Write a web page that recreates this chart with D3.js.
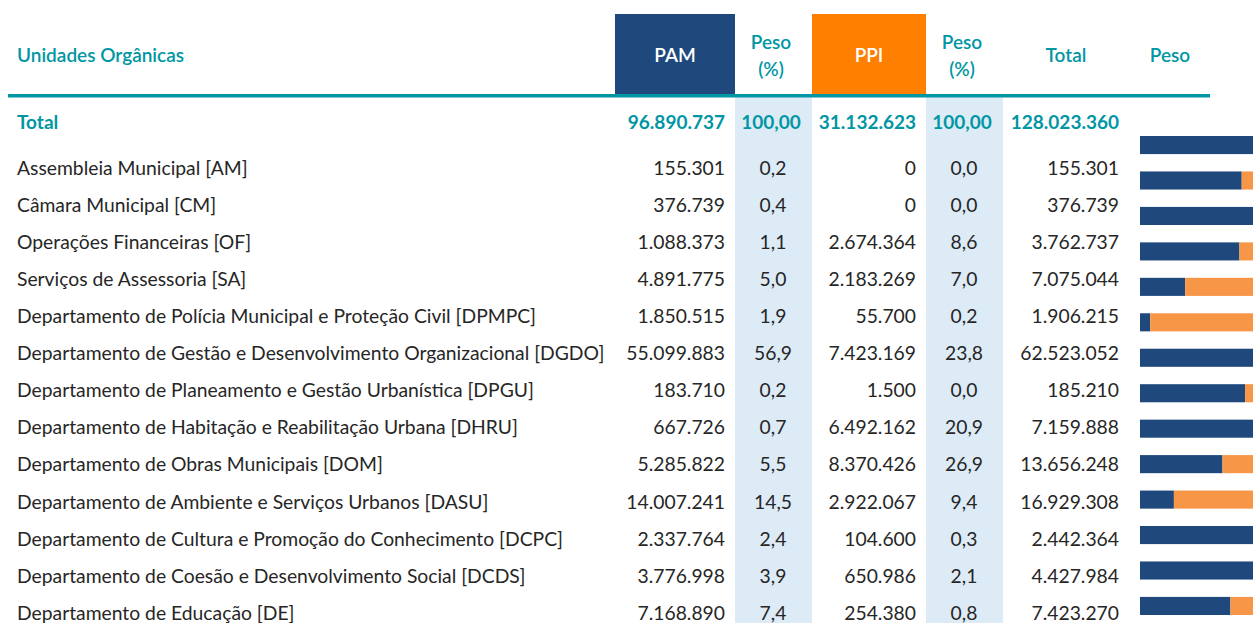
<!DOCTYPE html>
<html>
<head>
<meta charset="utf-8">
<title>Unidades Orgânicas - PAM / PPI</title>
<script src="https://d3js.org/d3.v7.min.js"></script>
<style>
    body { margin: 0; background: #ffffff; }
    svg { display: block; }
    text { font-family: Lato, "Liberation Sans", sans-serif; }
</style>
</head>
<body>
<div id="chart"></div>
<script>
    var units = [
        'Assembleia Municipal [AM]',
        'Câmara Municipal [CM]',
        'Operações Financeiras [OF]',
        'Serviços de Assessoria [SA]',
        'Departamento de Polícia Municipal e Proteção Civil [DPMPC]',
        'Departamento de Gestão e Desenvolvimento Organizacional [DGDO]',
        'Departamento de Planeamento e Gestão Urbanística [DPGU]',
        'Departamento de Habitação e Reabilitação Urbana [DHRU]',
        'Departamento de Obras Municipais [DOM]',
        'Departamento de Ambiente e Serviços Urbanos [DASU]',
        'Departamento de Cultura e Promoção do Conhecimento [DCPC]',
        'Departamento de Coesão e Desenvolvimento Social [DCDS]',
        'Departamento de Educação [DE]'
    ];
    var pam = [155301, 376739, 1088373, 4891775, 1850515, 55099883, 183710, 667726, 5285822, 14007241, 2337764, 3776998, 7168890];
    var pesoPam = [0.2, 0.4, 1.1, 5.0, 1.9, 56.9, 0.2, 0.7, 5.5, 14.5, 2.4, 3.9, 7.4];
    var ppi = [0, 0, 2674364, 2183269, 55700, 7423169, 1500, 6492162, 8370426, 2922067, 104600, 650986, 254380];
    var pesoPpi = [0.0, 0.0, 8.6, 7.0, 0.2, 23.8, 0.0, 20.9, 26.9, 9.4, 0.3, 2.1, 0.8];
    var total = [155301, 376739, 3762737, 7075044, 1906215, 62523052, 185210, 7159888, 13656248, 16929308, 2442364, 4427984, 7423270];
    var totals = { pam: 96890737, pesoPam: 100, ppi: 31132623, pesoPpi: 100, total: 128023360 };

    // share of PAM in the visible part of each "Peso" bar (the rest is PPI)
    var barPam = [100, 90, 100, 88, 40, 9, 100, 93, 100, 73, 30, 100, 100, 80];

    var width = 1253, height = 623;
    var teal = '#0096a3', navy = '#1f497d', orange = '#ff8000', barOrange = '#f79646',
        shade = '#ddebf7', ink = '#262626';

    var pt = d3.formatLocale({ decimal: ',', thousands: '.', grouping: [3], currency: ['', ' €'] });
    var fmtInt = pt.format(',d');
    var fmt1 = pt.format(',.1f');
    var fmt2 = pt.format(',.2f');

    var svg = d3.select('#chart').append('svg')
        .attr('width', width)
        .attr('height', height);

    // columns: x positions of the table
    var col = {
        label: 17,
        pamRight: 725, pam0: 615, pam1: 735,
        pesoPam: 773, shade1: [735, 812],
        ppiRight: 916, ppi0: 812, ppi1: 926,
        pesoPpi: 964, shade2: [926, 1003],
        totalRight: 1119, totalHead: 1066,
        pesoHead: 1170
    };

    var y = d3.scalePoint()
        .domain(units)
        .range([168, 613]);
    var yTotal = 122;

    // shaded peso columns
    [col.shade1, col.shade2].forEach(function (s) {
        svg.append('rect')
            .attr('x', s[0]).attr('y', 97)
            .attr('width', s[1] - s[0]).attr('height', height - 97)
            .attr('fill', shade);
    });

    // header boxes
    svg.append('rect').attr('x', col.pam0).attr('y', 14)
        .attr('width', col.pam1 - col.pam0).attr('height', 82).attr('fill', navy);
    svg.append('rect').attr('x', col.ppi0).attr('y', 14)
        .attr('width', col.ppi1 - col.ppi0).attr('height', 82).attr('fill', orange);

    // teal rule under the header
    svg.append('rect').attr('x', 8).attr('y', 94)
        .attr('width', 1202).attr('height', 3.5).attr('fill', teal);

    var head = svg.append('g')
        .attr('font-size', 19)
        .attr('font-weight', 600)
        .attr('fill', teal);

    head.append('text').attr('x', col.label).attr('y', 55)
        .attr('dy', '0.35em').text('Unidades Orgânicas');
    head.append('text').attr('x', (col.pam0 + col.pam1) / 2).attr('y', 55)
        .attr('dy', '0.35em').attr('text-anchor', 'middle').attr('fill', '#fff').text('PAM');
    head.append('text').attr('x', (col.ppi0 + col.ppi1) / 2).attr('y', 55)
        .attr('dy', '0.35em').attr('text-anchor', 'middle').attr('fill', '#fff').text('PPI');
    [col.pesoPam, col.pesoPpi].forEach(function (cx) {
        head.append('text').attr('x', cx - 2).attr('y', 42)
            .attr('dy', '0.35em').attr('text-anchor', 'middle').text('Peso');
        head.append('text').attr('x', cx - 2).attr('y', 69)
            .attr('dy', '0.35em').attr('text-anchor', 'middle').text('(%)');
    });
    head.append('text').attr('x', col.totalHead).attr('y', 55)
        .attr('dy', '0.35em').attr('text-anchor', 'middle').text('Total');
    head.append('text').attr('x', col.pesoHead).attr('y', 55)
        .attr('dy', '0.35em').attr('text-anchor', 'middle').text('Peso');

    // total row
    var tot = svg.append('g')
        .attr('font-size', 19)
        .attr('font-weight', 700)
        .attr('fill', teal);
    tot.append('text').attr('x', col.label).attr('y', yTotal).attr('dy', '0.35em').text('Total');
    tot.append('text').attr('x', col.pamRight).attr('y', yTotal).attr('dy', '0.35em')
        .attr('text-anchor', 'end').text(fmtInt(totals.pam));
    tot.append('text').attr('x', col.pesoPam - 2).attr('y', yTotal).attr('dy', '0.35em')
        .attr('text-anchor', 'middle').text(fmt2(totals.pesoPam));
    tot.append('text').attr('x', col.ppiRight).attr('y', yTotal).attr('dy', '0.35em')
        .attr('text-anchor', 'end').text(fmtInt(totals.ppi));
    tot.append('text').attr('x', col.pesoPpi - 2).attr('y', yTotal).attr('dy', '0.35em')
        .attr('text-anchor', 'middle').text(fmt2(totals.pesoPpi));
    tot.append('text').attr('x', col.totalRight).attr('y', yTotal).attr('dy', '0.35em')
        .attr('text-anchor', 'end').text(fmtInt(totals.total));

    // body rows
    var rows = svg.append('g')
        .attr('font-size', 18.5)
        .attr('fill', ink)
        .selectAll('g')
        .data(units)
        .enter()
        .append('g')
        .attr('transform', function (d) { return 'translate(0,' + y(d) + ')'; });

    rows.append('text').attr('x', col.label).attr('dy', '0.35em')
        .text(function (d) { return d; });
    rows.append('text').attr('x', col.pamRight).attr('dy', '0.35em').attr('text-anchor', 'end')
        .text(function (d, i) { return fmtInt(pam[i]); });
    rows.append('text').attr('x', col.pesoPam).attr('dy', '0.35em').attr('text-anchor', 'middle')
        .text(function (d, i) { return fmt1(pesoPam[i]); });
    rows.append('text').attr('x', col.ppiRight).attr('dy', '0.35em').attr('text-anchor', 'end')
        .text(function (d, i) { return fmtInt(ppi[i]); });
    rows.append('text').attr('x', col.pesoPpi).attr('dy', '0.35em').attr('text-anchor', 'middle')
        .text(function (d, i) { return fmt1(pesoPpi[i]); });
    rows.append('text').attr('x', col.totalRight).attr('dy', '0.35em').attr('text-anchor', 'end')
        .text(function (d, i) { return fmtInt(total[i]); });

    // fit the body font so the longest label spans like the reference (~588px)
    var longest = rows.filter(function (d) { return d.indexOf('[DGDO]') > 0; }).select('text');
    var len = longest.node().getComputedTextLength();
    var fs = 18.5 * 588 / len;
    svg.selectAll('g[font-size="18.5"]').attr('font-size', fs);

    // Peso bars (stacked PAM / PPI, clipped at the page edge)
    var barData = barPam.map(function (v, i) { return { i: i, pam: v, ppi: 100 - v }; });
    var stack = d3.stack().keys(['pam', 'ppi'])(barData);

    var bx = d3.scaleLinear().domain([0, 100]).range([1140, 1253]);
    var by = d3.scaleBand()
        .domain(d3.range(barPam.length))
        .range([136, 615])
        .paddingInner(0.49)
        .paddingOuter(0);
    var barColor = d3.scaleOrdinal().domain(['pam', 'ppi']).range([navy, barOrange]);

    svg.append('g')
        .selectAll('g')
        .data(stack)
        .enter()
        .append('g')
        .attr('fill', function (d) { return barColor(d.key); })
        .selectAll('rect')
        .data(function (d) { return d; })
        .enter()
        .append('rect')
        .attr('x', function (d) { return bx(d[0]); })
        .attr('y', function (d) { return by(d.data.i); })
        .attr('width', function (d) { return bx(d[1]) - bx(d[0]); })
        .attr('height', by.bandwidth());
</script>
</body>
</html>
